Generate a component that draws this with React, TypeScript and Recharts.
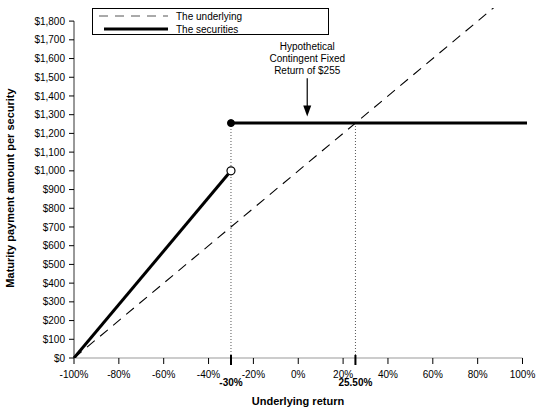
import {
  Legend,
  Line,
  LineChart,
  ReferenceDot,
  ReferenceLine,
  XAxis,
  YAxis,
} from "recharts"

// underlying return (%) -> maturity payment ($)
const underlyingReturns = [-100, 100]
const underlyingValues = [0, 2000]
const lowerReturns = [-100, -30]
const lowerValues = [0, 1000]
const upperReturns = [-30, 102]
const upperValues = [1255, 1255]

const xTicks = [-100, -80, -60, -40, -20, 0, 20, 40, 60, 80, 100]
const markedReturns = [-30, 25.5]
const markedLabels = ["-30%", "25.50%"]
const yTicks = [0, 100, 200, 300, 400, 500, 600, 700, 800, 900, 1000, 1100, 1200, 1300, 1400, 1500, 1600, 1700, 1800]

const fixedPayment = 1255
const barrierPayment = 1000
const arrowReturn = 4
const arrowFrom = 1495
const arrowTo = 1290
const annotationLines = ["Hypothetical", "Contingent Fixed", "Return of $255"]

const FONT = "'Liberation Sans', Arial, sans-serif"

const toPoints = (xs: number[], ys: number[]) => xs.map((x, i) => ({ x, y: ys[i] }))

const underlyingData = toPoints(underlyingReturns, underlyingValues)
const lowerData = toPoints(lowerReturns, lowerValues)
const upperData = toPoints(upperReturns, upperValues)

const formatDollar = (v: number) => `$${v.toLocaleString("en-US")}`

function XTick(props: any) {
  const { x, y, payload } = props
  const i = markedReturns.indexOf(payload.value)
  const axisY = y - 13
  if (i >= 0) {
    return (
      <g>
        <line x1={x} x2={x} y1={axisY - 3} y2={axisY + 7} stroke="#000" strokeWidth={2} />
        <text x={x} y={y + 15} textAnchor="middle" fontSize={10} fontWeight="bold" fill="#000" fontFamily={FONT}>
          {markedLabels[i]}
        </text>
      </g>
    )
  }
  return (
    <text x={x} y={y + 7} textAnchor="middle" fontSize={10} fill="#000" fontFamily={FONT}>
      {`${payload.value}%`}
    </text>
  )
}

function LegendBox() {
  return (
    <div style={{ border: "1px solid #000", background: "#fff", width: 237, height: 27, boxSizing: "border-box", fontFamily: FONT, fontSize: 10 }}>
      <svg width={235} height={25}>
        <line x1={6} x2={75} y1={7} y2={7} stroke="#555" strokeDasharray="9 7" />
        <text x={83} y={11} fontSize={10} fill="#000">The underlying</text>
        <line x1={11} x2={75} y1={20} y2={20} stroke="#000" strokeWidth={3} />
        <text x={83} y={24} fontSize={10} fill="#000">The securities</text>
      </svg>
    </div>
  )
}

export default function App() {
  return (
    <div style={{ position: "absolute", left: 0, top: 0 }}>
      <LineChart width={542} height={415} margin={{ top: 8, right: 15, left: 0, bottom: 0 }} style={{ fontFamily: FONT }}>
        <XAxis
          type="number"
          dataKey="x"
          domain={[-100, 102]}
          ticks={[...xTicks, ...markedReturns]}
          interval={0}
          axisLine={false}
          tickLine={{ stroke: "#000" }}
          tickSize={6}
          tickMargin={7}
          tick={<XTick />}
          height={57}
          label={{
            content: () => (
              <text x={298} y={405} textAnchor="middle" fontSize={11} fontWeight="bold" fill="#000" fontFamily={FONT}>
                Underlying return
              </text>
            ),
          }}
        />
        <YAxis
          type="number"
          domain={[0, 1870]}
          allowDataOverflow
          ticks={yTicks}
          interval={0}
          width={74}
          axisLine={false}
          tickLine={{ stroke: "#000" }}
          tickSize={5}
          tickMargin={4}
          tick={{ fill: "#000", fontSize: 10 }}
          tickFormatter={formatDollar}
          label={{
            content: () => (
              <text transform="translate(14,188) rotate(-90)" textAnchor="middle" fontSize={11} fontWeight="bold" fill="#000" fontFamily={FONT}>
                Maturity payment amount per security
              </text>
            ),
          }}
        />
        <ReferenceLine segment={[{ x: -100, y: 0 }, { x: -100, y: 1800 }]} stroke="#333" />
        <ReferenceLine segment={[{ x: -100, y: 0 }, { x: 100, y: 0 }]} stroke="#999" />
        <ReferenceLine segment={[{ x: markedReturns[0], y: 0 }, { x: markedReturns[0], y: fixedPayment }]} stroke="#555" strokeDasharray="1 2" />
        <ReferenceLine segment={[{ x: markedReturns[1], y: 0 }, { x: markedReturns[1], y: fixedPayment }]} stroke="#555" strokeDasharray="1 2" />
        <Line data={underlyingData} dataKey="y" stroke="#000" strokeWidth={1.1} strokeDasharray="10 7" dot={false} isAnimationActive={false} />
        <Line data={lowerData} dataKey="y" stroke="#000" strokeWidth={3} dot={false} isAnimationActive={false} />
        <Line data={upperData} dataKey="y" stroke="#000" strokeWidth={3} dot={false} isAnimationActive={false} />
        <ReferenceDot x={markedReturns[0]} y={barrierPayment} r={4} fill="#fff" stroke="#000" strokeWidth={1.2} />
        <ReferenceDot x={markedReturns[0]} y={fixedPayment} r={3.5} fill="#000" stroke="#000" />
        <ReferenceLine
          segment={[{ x: arrowReturn, y: arrowFrom }, { x: arrowReturn, y: arrowTo }]}
          shape={(p: any) => (
            <g>
              <line x1={p.x1} y1={p.y1} x2={p.x2} y2={p.y2 - 10} stroke="#000" strokeWidth={1.2} />
              <polygon points={`${p.x2 - 4},${p.y2 - 11} ${p.x2 + 4},${p.y2 - 11} ${p.x2},${p.y2}`} fill="#000" />
              {annotationLines.map((t, i) => (
                <text key={t} x={p.x1} y={p.y1 - 28 + i * 12} textAnchor="middle" fontSize={10} fill="#000" fontFamily={FONT}>
                  {t}
                </text>
              ))}
            </g>
          )}
        />
        <Legend
          layout="vertical"
          align="center"
          verticalAlign="middle"
          content={<LegendBox />}
          wrapperStyle={{ left: 92, top: 8, width: 237, height: 27 }}
        />
      </LineChart>
    </div>
  )
}
